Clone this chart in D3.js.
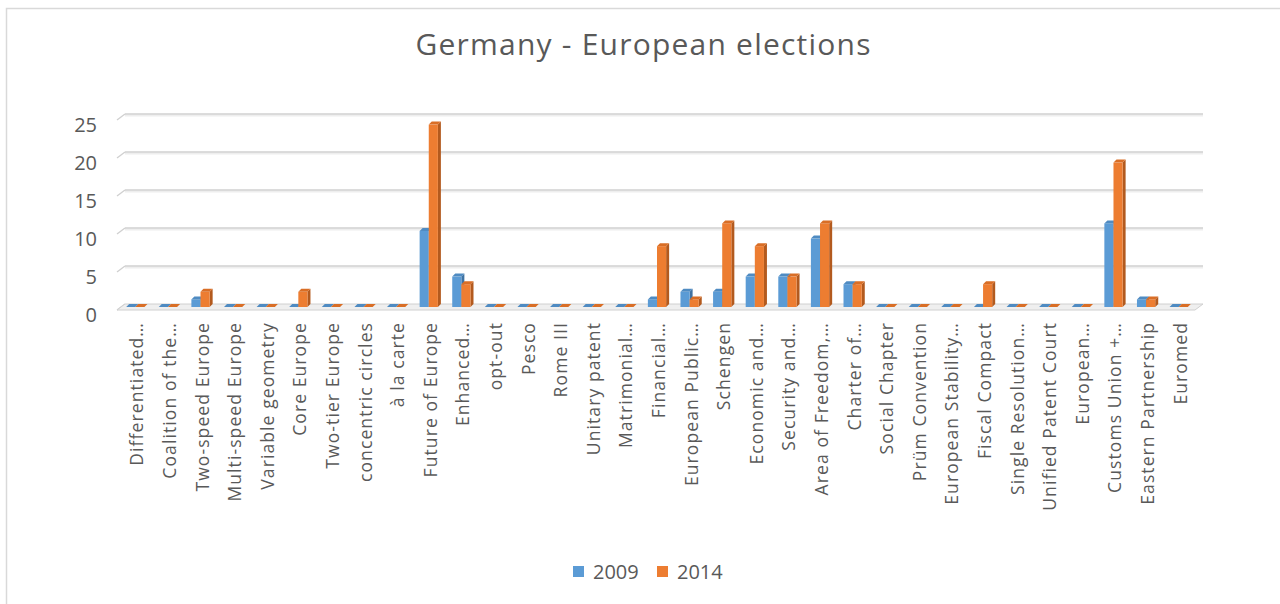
<!DOCTYPE html>
<html>
<head>
<meta charset="utf-8">
<script src="https://cdn.jsdelivr.net/npm/d3@7"></script>
<style>
  html, body { margin: 0; padding: 0; background: #fff; }
  svg { display: block; }
  text { font-family: "Open Sans", Lato, sans-serif; fill: #595959; }
</style>
</head>
<body>
<svg id="chart" width="1280" height="604"></svg>
<script>
// Topics mentioned, per election year
const categories = [
  "Differentiated…", "Coalition of the…", "Two-speed Europe", "Multi-speed Europe",
  "Variable geometry", "Core Europe", "Two-tier Europe", "concentric circles",
  "à la carte", "Future of Europe", "Enhanced…", "opt-out", "Pesco", "Rome III",
  "Unitary patent", "Matrimonial…", "Financial…", "European Public…", "Schengen",
  "Economic and…", "Security and…", "Area of Freedom,…", "Charter of…",
  "Social Chapter", "Prüm Convention", "European Stability…", "Fiscal Compact",
  "Single Resolution…", "Unified Patent Court", "European…", "Customs Union +…",
  "Eastern Partnership", "Euromed"
];
const values2009 = [0,0,1,0,0,0,0,0,0,10,4,0,0,0,0,0,1,2,2,4,4,9,3,0,0,0,0,0,0,0,11,1,0];
const values2014 = [0,0,2,0,0,2,0,0,0,24,3,0,0,0,0,0,8,1,11,8,4,11,3,0,0,0,3,0,0,0,19,1,0];
const seriesNames = ["2009", "2014"];
const yTicks = [0, 5, 10, 15, 20, 25];

const colors = {
  "2009": { front: "#5B9BD5", top: "#4F8BC2", side: "#3F73A3" },
  "2014": { front: "#ED7D31", top: "#D96E26", side: "#B35A1E" }
};

const svg = d3.select("#chart");

// chart frame
svg.append("rect")
  .attr("x", 6.5).attr("y", 8.5).attr("width", 1290).attr("height", 610)
  .attr("fill", "#fff").attr("stroke", "#d9d9d9").attr("stroke-width", 1.5);

// title
svg.append("text")
  .attr("x", 643).attr("y", 55)
  .attr("text-anchor", "middle")
  .attr("textLength", 455).attr("lengthAdjust", "spacing")
  .style("font-size", "30px")
  .text("Germany - European elections");

// 3D depth offsets: floor/wall back edge vs. front edge
const depth = { dx: 8, dy: -6 };
const barDepth = { dx: 3, dy: -3 };

const x = d3.scaleBand().domain(categories).range([117, 1193]).paddingInner(0.44).paddingOuter(0.22);
const xs = d3.scaleBand().domain(seriesNames).range([0, x.bandwidth()]);
const y = d3.scaleLinear().domain([0, 25]).range([310, 120]);

// back-wall gridlines with the small diagonal stub on the side wall
const grid = svg.append("g");
yTicks.forEach(t => {
  const yf = y(t), yb = y(t) + depth.dy;
  if (t > 0) {
    grid.append("line")
      .attr("x1", 117 + depth.dx).attr("x2", 1203)
      .attr("y1", yb + 1.5).attr("y2", yb + 1.5)
      .attr("stroke", "#eeeeee").attr("stroke-width", 2);
    grid.append("line")
      .attr("x1", 117 + depth.dx).attr("x2", 1203)
      .attr("y1", yb).attr("y2", yb)
      .attr("stroke", "#d0d0d0").attr("stroke-width", 1.3);
  }
  grid.append("line")
    .attr("x1", 117).attr("y1", yf)
    .attr("x2", 117 + depth.dx).attr("y2", yb)
    .attr("stroke", "#d0d0d0").attr("stroke-width", 1.3);
});

// floor
const y0 = y(0);
svg.append("path")
  .attr("d", `M117,${y0} L1195,${y0} L1203,${y0 + depth.dy} L125,${y0 + depth.dy} Z`)
  .attr("fill", "#efefef").attr("stroke", "#d0d0d0").attr("stroke-width", 1);

// y-axis tick labels
svg.append("g").selectAll("text")
  .data(yTicks).join("text")
  .attr("x", 97).attr("y", d => y(d) + 4)
  .attr("text-anchor", "end").attr("dominant-baseline", "central")
  .style("font-size", "20px")
  .text(d => d);

// bars with front, side and top faces
const rows = categories.map((c, i) => ({ cat: c, vals: [values2009[i], values2014[i]] }));
const barsG = svg.append("g");
rows.forEach(r => {
  r.vals.forEach((v, si) => {
    const s = seriesNames[si];
    const col = colors[s];
    const x0 = x(r.cat) + xs(s) + 2;
    const w = xs.bandwidth();
    const yb = y(0) - 3;
    const yt = y(v) - 3;
    const g = barsG.append("g");
    // side
    g.append("path")
      .attr("d", `M${x0 + w},${yb} L${x0 + w + barDepth.dx},${yb + barDepth.dy} L${x0 + w + barDepth.dx},${yt + barDepth.dy} L${x0 + w},${yt} Z`)
      .attr("fill", col.side);
    // front
    if (v > 0) {
      g.append("rect")
        .attr("x", x0).attr("y", yt).attr("width", w).attr("height", yb - yt)
        .attr("fill", col.front);
    }
    // top
    g.append("path")
      .attr("d", `M${x0},${yt} L${x0 + w},${yt} L${x0 + w + barDepth.dx},${yt + barDepth.dy} L${x0 + barDepth.dx},${yt + barDepth.dy} Z`)
      .attr("fill", col.top);
  });
});

// category labels, rotated
svg.append("g").selectAll("text")
  .data(categories).join("text")
  .attr("transform", d => `translate(${x(d) + x.bandwidth() / 2 + 3},322) rotate(-90)`)
  .attr("text-anchor", "end").attr("dominant-baseline", "central")
  .style("font-size", "17.5px")
  .style("letter-spacing", "1.1px")
  .text(d => d);

// legend
const legend = svg.append("g");
const legendItems = [{ name: "2009", x: 573 }, { name: "2014", x: 657 }];
legendItems.forEach(it => {
  legend.append("rect")
    .attr("x", it.x).attr("y", 566).attr("width", 11).attr("height", 11)
    .attr("fill", colors[it.name].front);
  legend.append("text")
    .attr("x", it.x + 20).attr("y", 571)
    .attr("dominant-baseline", "central")
    .style("font-size", "20px")
    .text(it.name);
});
</script>
</body>
</html>
